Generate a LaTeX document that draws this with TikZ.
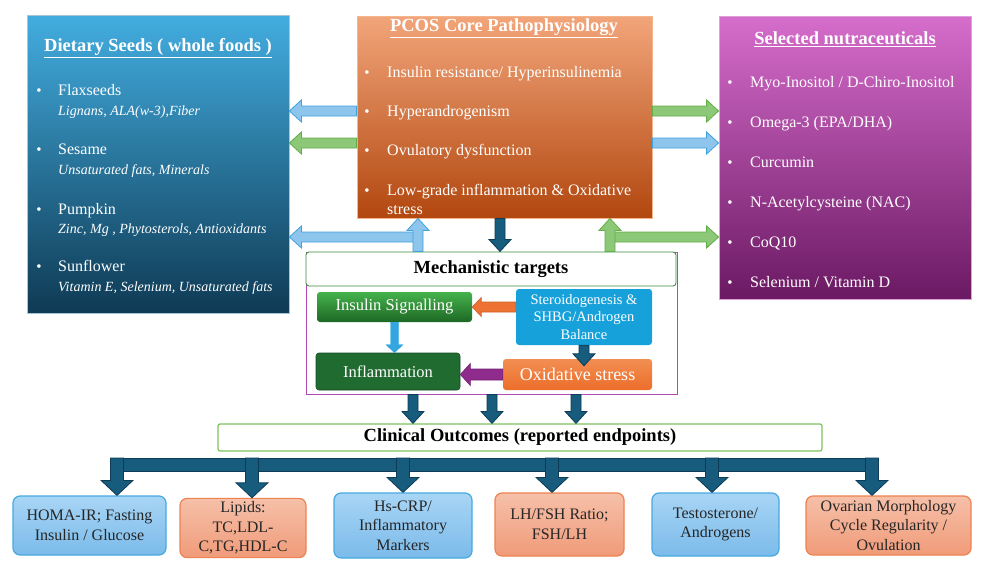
\documentclass[tikz,border=0pt]{standalone}
\usepackage{fontspec}
\setmainfont{Liberation Serif}
\usetikzlibrary{calc}

\definecolor{seedtop}{HTML}{43ADE0}
\definecolor{seedbot}{HTML}{0E3A54}
\definecolor{seedline}{HTML}{A9C6D8}
\definecolor{pcostop}{HTML}{F2A57A}
\definecolor{pcosbot}{HTML}{B2470F}
\definecolor{pcosline}{HTML}{F4B48C}
\definecolor{nutratop}{HTML}{D66DCC}
\definecolor{nutrabot}{HTML}{6B1963}
\definecolor{nutraline}{HTML}{DDA0DA}
\definecolor{flowblue}{HTML}{8EC5EC}
\definecolor{flowblueline}{HTML}{3FA2DD}
\definecolor{flowgreen}{HTML}{8DC879}
\definecolor{flowgreenline}{HTML}{62AE48}
\definecolor{navy}{HTML}{175B7D}
\definecolor{navyline}{HTML}{0E3C56}
\definecolor{mechline}{HTML}{B448B5}
\definecolor{titlegreen}{HTML}{3E8C3E}
\definecolor{clinline}{HTML}{7DC35D}
\definecolor{insultop}{HTML}{45B24C}
\definecolor{insulbot}{HTML}{1D6824}
\definecolor{steroidfill}{HTML}{17A1DB}
\definecolor{inflamfill}{HTML}{1F6B30}
\definecolor{oxidtop}{HTML}{F28E52}
\definecolor{oxidbot}{HTML}{EC6E2B}
\definecolor{orangeflow}{HTML}{EE7233}
\definecolor{purpleflow}{HTML}{8E2B8C}
\definecolor{skyflow}{HTML}{33A6DF}
\definecolor{outbluetop}{HTML}{A8D5F5}
\definecolor{outbluebot}{HTML}{7BBBEA}
\definecolor{outblueline}{HTML}{46A9E0}
\definecolor{outsalmtop}{HTML}{F6C0A9}
\definecolor{outsalmbot}{HTML}{F09B79}
\definecolor{outsalmline}{HTML}{EE8251}

\tikzset{
  barw/.store in=\barw, tipw/.store in=\tipw, tipl/.store in=\tipl,
  flow/.style={barw=5pt,tipw=11pt,tipl=12pt,line width=0.8pt},
  blueflow/.style={flow,fill=flowblue,draw=flowblueline},
  greenflow/.style={flow,fill=flowgreen,draw=flowgreenline},
  darkflow/.style={flow,fill=navy,draw=navyline},
  busflow/.style={barw=6.5pt,tipw=16pt,tipl=15pt,line width=0.8pt,fill=navy,draw=navyline},
  orangearrow/.style={barw=5pt,tipw=9.5pt,tipl=9pt,line width=0.6pt,fill=orangeflow,draw=orangeflow!85!black},
  purplearrow/.style={barw=5.5pt,tipw=11pt,tipl=10pt,line width=0.6pt,fill=purpleflow,draw=purpleflow!80!black},
  skyarrow/.style={barw=4pt,tipw=8.5pt,tipl=8pt,line width=0.4pt,fill=skyflow,draw=skyflow},
  bigbox/.style={line width=0.8pt,inner sep=0pt},
  ttl/.style={text=white,font=\fontsize{18.5}{21}\selectfont\bfseries},
  item/.style={anchor=base west,inner sep=0pt,text=white,font=\fontsize{16}{19}\selectfont},
  itemwrap/.style={anchor=west,inner sep=0pt,text=white,align=left,font=\fontsize{16}{19.5}\selectfont},
  sub/.style={anchor=base west,inner sep=0pt,text=white,font=\fontsize{14}{17}\selectfont\itshape},
  dot/.style={anchor=base,inner sep=0pt,text=white,font=\fontsize{15}{17}\selectfont},
  mechbox/.style={rounded corners=3pt,text=white,align=center,inner sep=0pt},
  outblue/.style={draw=outblueline,line width=1.2pt,rounded corners=7pt,top color=outbluetop,
    bottom color=outbluebot,align=center,text=black!85,font=\fontsize{16}{19.5}\selectfont},
  outsalm/.style={outblue,draw=outsalmline,top color=outsalmtop,bottom color=outsalmbot}
}

% block arrow from #2 to #3
\newcommand{\blockarrow}[3][]{%
  \path[#1] let \p1=(#2), \p2=(#3),
    \n1={atan2(\y2-\y1,\x2-\x1)}, \n2={veclen(\x2-\x1,\y2-\y1)} in
    [shift={(\p1)},rotate=\n1]
    (0pt,-\barw) -- (\n2-\tipl,-\barw) -- (\n2-\tipl,-\tipw) -- (\n2,0pt)
    -- (\n2-\tipl,\tipw) -- (\n2-\tipl,\barw) -- (0pt,\barw) -- cycle;}

\begin{document}
\begin{tikzpicture}[x=1pt,y=-1pt]
\useasboundingbox (0,0) rectangle (986,573);

% three top panels
\node[bigbox,draw=seedline,top color=seedtop,bottom color=seedbot,minimum width=262pt,minimum height=298pt] (seeds) at (158,164) {};
\node[bigbox,draw=pcosline,top color=pcostop,bottom color=pcosbot,minimum width=295pt,minimum height=202pt] (pcos) at (504.5,117) {};
\node[bigbox,draw=nutraline,top color=nutratop,bottom color=nutrabot,minimum width=252pt,minimum height=283pt] (nutra) at (845,157.5) {};

\node[ttl] (seedttl) at (158,48) {\underline{Dietary Seeds ( whole foods )}};
\foreach \nm/\sb/\y in {Flaxseeds/{Lignans, ALA(w-3),Fiber}/95.5,
    Sesame/{Unsaturated fats, Minerals}/154.5,
    Pumpkin/{Zinc, Mg , Phytosterols, Antioxidants}/214,
    Sunflower/{Vitamin E, Selenium, Unsaturated fats}/271.5}{
  \node[dot] (sd\y) at (39,\y) {\textbullet};
  \node[item] (sn\y) at (58,\y) {\nm};
  \node[sub] (ss\y) at (58,\y+19.5) {\sb};
}

\node[ttl] (pcosttl) at (504,28) {\underline{PCOS Core Pathophysiology}};
\node[item] (insres) at (387,77.5) {Insulin resistance/ Hyperinsulinemia};
\node[item] (hyper) at (387,116.5) {Hyperandrogenism};
\node[item] (ovul) at (387,155.5) {Ovulatory dysfunction};
\node[itemwrap] (lowgr) at (387,199.5) {Low-grade inflammation \& Oxidative\\stress};
\foreach \y in {77.5,116.5,155.5,195.5}
  \node[dot] (pd\y) at (367,\y) {\textbullet};

\node[ttl] (nutrattl) at (845,39) {\underline{Selected nutraceuticals}};
\foreach \t [count=\i] in {Myo-Inositol / D-Chiro-Inositol, Omega-3 (EPA/DHA), Curcumin,
    N-Acetylcysteine (NAC), CoQ10, Selenium / Vitamin D}{
  \node[dot] (nb\i) at (730,{47.5+40*\i}) {\textbullet};
  \node[item] (nu\i) at (750,{47.5+40*\i}) {\t};
}

% mechanistic targets
\node[draw=mechline,line width=1pt,minimum width=371pt,minimum height=142pt,inner sep=0pt] (mech) at (491.5,323) {};
\node[draw=titlegreen,fill=white,rounded corners=3pt,line width=0.9pt,minimum width=370pt,minimum height=34pt,inner sep=0pt,
  font=\fontsize{18.5}{21}\selectfont\bfseries] (mechttl) at (491,269) {Mechanistic targets};
\node[mechbox,top color=insultop,bottom color=insulbot,minimum width=155pt,minimum height=30pt,
  font=\fontsize{16.5}{19}\selectfont] (insulin) at (394.5,307) {Insulin Signalling};
\node[mechbox,fill=steroidfill,minimum width=136pt,minimum height=56pt,
  font=\fontsize{14.5}{17.5}\selectfont] (steroid) at (584,317) {Steroidogenesis \&\\SHBG/Androgen\\Balance};
\node[mechbox,fill=inflamfill,draw=inflamfill!70!black,line width=0.6pt,minimum width=144pt,minimum height=37pt,
  font=\fontsize{16.5}{19}\selectfont] (inflam) at (388,371.5) {Inflammation};
\node[mechbox,top color=oxidtop,bottom color=oxidbot,minimum width=149pt,minimum height=31pt,
  font=\fontsize{18}{21}\selectfont] (oxid) at (577.5,374.5) {Oxidative stress};

% clinical outcomes
\node[draw=clinline,fill=white,rounded corners=2pt,line width=1.2pt,minimum width=604pt,minimum height=27pt,inner sep=0pt,
  font=\fontsize{18.5}{21}\selectfont\bfseries] (clinical) at (520,437.5) {Clinical Outcomes (reported endpoints)};

\node[outblue,minimum width=153pt,minimum height=59pt] (homa) at (89.5,525.5) {HOMA-IR; Fasting\\Insulin / Glucose};
\node[outsalm,minimum width=126pt,minimum height=58pt] (lipids) at (243,528) {Lipids:\\TC,LDL-\\C,TG,HDL-C};
\node[outblue,minimum width=138pt,minimum height=65pt] (hscrp) at (403,525.5) {Hs-CRP/\\Inflammatory\\Markers};
\node[outsalm,minimum width=129pt,minimum height=63pt] (lhfsh) at (559.5,524.5) {LH/FSH Ratio;\\FSH/LH};
\node[outblue,minimum width=127pt,minimum height=63pt] (testo) at (715.5,524.5) {Testosterone/\\Androgens};
\node[outsalm,minimum width=165pt,minimum height=59pt] (ovary) at (888.5,525.5) {Ovarian Morphology\\Cycle Regularity /\\Ovulation};

% arrows round the core box
\coordinate (row1) at (0,111);
\coordinate (row2) at (0,143);
\coordinate (row3) at (0,237);
\coordinate (upL) at (418,0);
\coordinate (upR) at (610,0);
\coordinate (core) at (500,0);
\blockarrow[blueflow]{pcos.west |- row1}{seeds.east |- row1}
\blockarrow[greenflow]{pcos.west |- row2}{seeds.east |- row2}
\blockarrow[blueflow]{upL |- row3}{seeds.east |- row3}
\blockarrow[blueflow]{upL |- mech.north}{upL |- pcos.south}
\blockarrow[greenflow]{pcos.east |- row1}{nutra.west |- row1}
\blockarrow[blueflow]{pcos.east |- row2}{nutra.west |- row2}
\blockarrow[greenflow]{upR |- row3}{nutra.west |- row3}
\blockarrow[greenflow]{upR |- mech.north}{upR |- pcos.south}
\blockarrow[darkflow]{core |- pcos.south}{core |- mech.north}

% inside the targets box
\coordinate (oxtip) at ([yshift=-7pt]oxid.north);
\blockarrow[orangearrow]{steroid.west |- insulin.east}{insulin.east}
\blockarrow[skyarrow]{insulin.south}{insulin.south |- inflam.north}
\blockarrow[darkflow]{steroid.south}{steroid.south |- oxtip}
\blockarrow[purplearrow]{oxid.west}{inflam.east |- oxid.west}

\foreach \x [count=\i] in {413,492,576}{
  \coordinate (dn\i) at (\x,0);
  \blockarrow[darkflow]{dn\i |- mech.south}{dn\i |- clinical.north}
}

% bus to the outcome boxes
\coordinate (busL) at (110,458);
\coordinate (busR) at (878,471);
\draw[fill=navy,draw=navyline,line width=0.8pt] (busL) rectangle (busR);
\foreach \x/\tgt in {117/homa,252/lipids,403/hscrp,552/lhfsh,712/testo,872/ovary}{
  \coordinate (bus\tgt) at (\x,458);
  \blockarrow[busflow]{bus\tgt}{bus\tgt |- \tgt.north}
}
\end{tikzpicture}
\end{document}
